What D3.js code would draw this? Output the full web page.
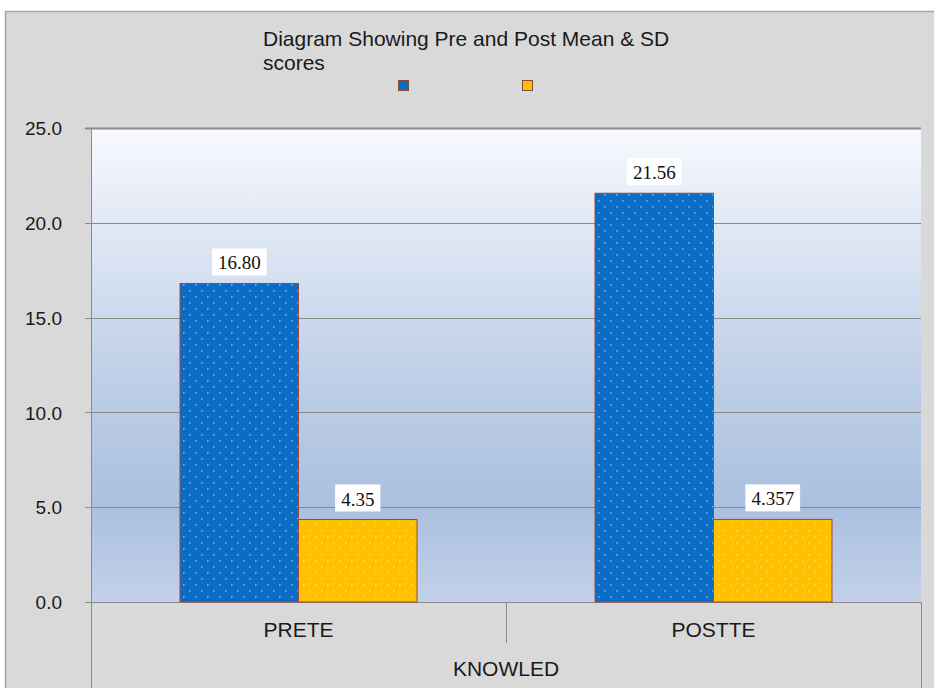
<!DOCTYPE html>
<html>
<head>
<meta charset="utf-8">
<script src="https://cdn.jsdelivr.net/npm/d3@7"></script>
<style>
  html, body { margin: 0; padding: 0; background: #ffffff; }
  svg { display: block; }
</style>
</head>
<body>
<svg id="chart" width="934" height="688"></svg>
<script>
const categories = ["PRETE", "POSTTE"];
const seriesNames = ["Mean", "SD"];
const meanValues = [16.80, 21.56];
const sdValues = [4.35, 4.357];
const meanLabels = ["16.80", "21.56"];
const sdLabels = ["4.35", "4.357"];
const yTicks = [0, 5, 10, 15, 20, 25];
const groupLabel = "KNOWLED";
const titleLines = ["Diagram Showing Pre and Post Mean & SD", "scores"];

const svg = d3.select("#chart");
const W = 934, H = 688;
const plot = { left: 91, right: 921, top: 128, bottom: 602 };
const sansFont = "'Liberation Sans', Arial, sans-serif";
const serifFont = "'Liberation Serif', 'Times New Roman', serif";

const defs = svg.append("defs");
const grad = defs.append("linearGradient").attr("id", "plotBg")
  .attr("x1", 0).attr("y1", 0).attr("x2", 0).attr("y2", 1);
[["0%", "#f7f9fe"], ["55%", "#bccde6"], ["80%", "#abc0df"], ["100%", "#c2d1e9"]]
  .forEach(([o, c]) => grad.append("stop").attr("offset", o).attr("stop-color", c));

function dotPattern(id, base, dot) {
  const p = defs.append("pattern").attr("id", id).attr("patternUnits", "userSpaceOnUse")
    .attr("width", 12).attr("height", 12);
  p.append("rect").attr("width", 12).attr("height", 12).attr("fill", base);
  p.append("rect").attr("x", 2).attr("y", 2).attr("width", 1.6).attr("height", 1.6).attr("fill", dot);
  p.append("rect").attr("x", 8).attr("y", 8).attr("width", 1.6).attr("height", 1.6).attr("fill", dot);
}
dotPattern("patBlue", "#0b6cc6", "#6fb3ee");
dotPattern("patOrange", "#ffc000", "#ffd866");

// outer chart background
svg.append("rect").attr("x", 5.5).attr("y", 11.5).attr("width", W).attr("height", H)
  .attr("fill", "#d9d9d9").attr("stroke", "#a6a6a6").attr("stroke-width", 1.5);

// plot background
svg.append("rect").attr("x", plot.left).attr("y", plot.top)
  .attr("width", plot.right - plot.left).attr("height", plot.bottom - plot.top)
  .attr("fill", "url(#plotBg)");

const y = d3.scaleLinear().domain([0, 25]).range([plot.bottom, plot.top]);
const x0 = d3.scaleBand().domain(categories).range([plot.left, plot.right]).padding(0);
const x1 = d3.scaleBand().domain(seriesNames).range([89, x0.bandwidth() - 89]).padding(0);

// gridlines
svg.append("g").selectAll("line").data(yTicks).join("line")
  .attr("x1", plot.left - 6).attr("x2", plot.right)
  .attr("y1", d => Math.round(y(d)) + 0.5).attr("y2", d => Math.round(y(d)) + 0.5)
  .attr("stroke", "#8a8a8a")
  .attr("stroke-width", d => d === 25 ? 2 : 1);

// y axis via d3
const yAxis = d3.axisLeft(y).tickValues(yTicks).tickFormat(d3.format(".1f")).tickSize(0).tickPadding(0);
const yg = svg.append("g").attr("transform", `translate(62,0)`).call(yAxis);
yg.select(".domain").remove();
yg.selectAll("text").attr("font-family", sansFont).attr("font-size", 19)
  .attr("fill", "#1a1a1a").attr("x", 0).attr("dy", "0.35em");

// left axis line and lower frame
const frame = svg.append("g").attr("stroke", "#8c8c8c").attr("stroke-width", 1);
frame.append("line").attr("x1", plot.left + 0.5).attr("x2", plot.left + 0.5).attr("y1", plot.top).attr("y2", H);
frame.append("line").attr("x1", plot.right + 0.5).attr("x2", plot.right + 0.5).attr("y1", plot.bottom).attr("y2", H);
frame.append("line").attr("x1", x0("POSTTE") + 0.5).attr("x2", x0("POSTTE") + 0.5).attr("y1", plot.bottom).attr("y2", 643);

// bars
const rows = categories.map((c, i) => ({ cat: c, vals: [
  { s: "Mean", v: meanValues[i], label: meanLabels[i], fill: "url(#patBlue)" },
  { s: "SD", v: sdValues[i], label: sdLabels[i], fill: "url(#patOrange)" }
]}));

const groups = svg.append("g").selectAll("g").data(rows).join("g")
  .attr("transform", d => `translate(${x0(d.cat)},0)`);

groups.selectAll("rect.bar").data(d => d.vals).join("rect").attr("class", "bar")
  .attr("x", d => x1(d.s)).attr("width", x1.bandwidth())
  .attr("y", d => y(d.v)).attr("height", d => y(0) - y(d.v))
  .attr("fill", d => d.fill).attr("stroke", "#9a4a3c").attr("stroke-width", 1);

// data labels with white boxes
const lab = groups.selectAll("g.lab").data(d => d.vals).join("g").attr("class", "lab")
  .attr("transform", d => `translate(${x1(d.s) + x1.bandwidth() / 2},${y(d.v) - 8})`);
lab.append("text").attr("text-anchor", "middle").attr("font-family", serifFont)
  .attr("font-size", 19).attr("fill", "#111").attr("y", -6).text(d => d.label)
  .each(function () {
    const bb = this.getBBox();
    d3.select(this.parentNode).insert("rect", "text")
      .attr("x", bb.x - 6).attr("y", -27).attr("width", bb.width + 12).attr("height", 27)
      .attr("fill", "#ffffff");
  });

// category labels
svg.append("g").selectAll("text").data(categories).join("text")
  .attr("x", d => x0(d) + x0.bandwidth() / 2).attr("y", 637)
  .attr("text-anchor", "middle").attr("font-family", sansFont).attr("font-size", 21)
  .attr("fill", "#1a1a1a").text(d => d);

svg.append("text").attr("x", (plot.left + plot.right) / 2).attr("y", 676)
  .attr("text-anchor", "middle").attr("font-family", sansFont).attr("font-size", 21)
  .attr("fill", "#1a1a1a").text(groupLabel);

// title
svg.append("g").selectAll("text").data(titleLines).join("text")
  .attr("x", 263).attr("y", (d, i) => 46 + i * 24)
  .attr("font-family", sansFont).attr("font-size", 21).attr("fill", "#1a1a1a").text(d => d);

// legend (no text)
const legendColors = [["Mean", "#0b6cc6"], ["SD", "#ffc000"]];
svg.append("g").selectAll("rect").data(legendColors).join("rect")
  .attr("x", (d, i) => 398.5 + i * 124).attr("y", 80.5).attr("width", 10).attr("height", 10)
  .attr("fill", d => d[1]).attr("stroke", "#8a4a3a").attr("stroke-width", 1);
</script>
</body>
</html>
